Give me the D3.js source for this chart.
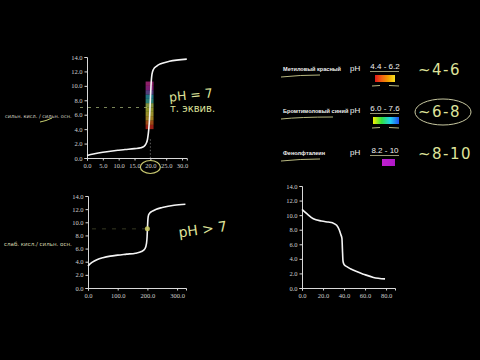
<!DOCTYPE html>
<html><head><meta charset="utf-8">
<script src="https://cdn.jsdelivr.net/npm/d3@7"></script>
<style>html,body{margin:0;padding:0;background:#000;}svg{display:block;}</style>
</head><body>
<svg id="c" width="480" height="360"></svg>
<script>
// ---- data ----
const strongX = [0, 2, 5, 8, 10, 12, 15, 17, 18, 18.6, 19.1, 19.5, 19.8, 20, 20.2, 20.5, 21, 22, 23.5, 26, 31.5];
const strongPH = [0.35, 0.55, 0.8, 0.98, 1.08, 1.17, 1.3, 1.42, 1.6, 1.95, 2.6, 4.0, 6.0, 8.0, 10.0, 11.6, 12.3, 12.75, 13.1, 13.4, 13.7];
const weakX = [0, 5, 15, 30, 50, 75, 100, 130, 160, 180, 192, 197, 199, 200, 201, 202, 204, 208, 215, 230, 250, 290, 328];
const weakPH = [3.35, 3.6, 3.95, 4.3, 4.6, 4.85, 5.0, 5.15, 5.3, 5.55, 6.0, 6.8, 7.8, 8.9, 9.9, 10.6, 11.1, 11.4, 11.65, 12.0, 12.25, 12.6, 12.75];
const baseX = [0, 4.6, 10.8, 18.5, 25, 29, 33, 35.5, 37, 38, 38.5, 38.9, 39.3, 40.2, 43, 46, 52, 58.5, 68, 79];
const basePH = [10.8, 10.2, 9.5, 9.2, 9.05, 8.95, 8.6, 7.95, 7.3, 6.8, 5.2, 3.9, 3.5, 3.2, 2.9, 2.65, 2.25, 1.9, 1.45, 1.25];
const yTicks = [0, 2, 4, 6, 8, 10, 12, 14];
const strongXTicks = [0, 5, 10, 15, 20, 25, 30];
const weakXTicks = [0, 100, 200, 300];
const baseXTicks = [0, 20, 40, 60, 80];
const indicatorNames = ["Метиловый красный", "Бромтимоловый синий", "Фенолфталеин"];
const indicatorRanges = ["4.4 - 6.2", "6.0 - 7.6", "8.2 - 10"];
const indicatorNotes = ["~4-6", "~6-8", "~8-10"];
const indicatorColors = [["#e01818", "#f06010", "#f0a000", "#f8e020"], ["#f8f000", "#30e040", "#20d0f0", "#2050f0"], ["#c020d0", "#b018c8"]];
const bandPH = [4.0, 4.6, 5.2, 5.8, 6.4, 7.0, 7.6, 8.2, 8.8, 9.4, 10.0, 10.6];
const bandColors = ["#e83020", "#f07020", "#f0c030", "#e8d840", "#d8e040", "#c8e060", "#40c0b0", "#30b0c8", "#8060c0", "#c030b0", "#d830a0", "#e8c040"];

const svg = d3.select("#c");
svg.append("rect").attr("width", 480).attr("height", 360).attr("fill", "#000");
const hand = "#dfe39a";
const fmt = d3.format(".1f");

function chart(x0, x1, y0, y1, xdom, xticks, xs, ys) {
  const x = d3.scaleLinear().domain(xdom).range([x0, x1]);
  const y = d3.scaleLinear().domain([0, 14]).range([y1, y0]);
  const g = svg.append("g");
  const ya = g.append("g").attr("transform", `translate(${x0},0)`)
    .call(d3.axisLeft(y).tickValues(yTicks).tickFormat(fmt).tickSize(2.5).tickPadding(2));
  const xa = g.append("g").attr("transform", `translate(0,${y1})`)
    .call(d3.axisBottom(x).tickValues(xticks).tickFormat(fmt).tickSize(2.5).tickPadding(3));
  [ya, xa].forEach(a => {
    a.selectAll("path,line").attr("stroke", "#d8d8d8").attr("stroke-width", 1);
    a.selectAll("text").attr("fill", "#d0d0d0").attr("font-family", "Liberation Serif, serif").attr("font-size", 6.5);
  });
  const line = d3.line().x((d, i) => x(xs[i])).y((d, i) => y(ys[i])).curve(d3.curveMonotoneX);
  return {x, y, g, line, path: () => g.append("path").datum(xs).attr("d", line).attr("fill", "none").attr("stroke", "#f4f4f4").attr("stroke-width", 1.6)};
}

// chart 1: strong acid / strong base
const c1 = chart(87, 186.8, 57, 158, [0, 31.5], strongXTicks, strongX, strongPH);
c1.g.append("line").attr("x1", 80).attr("x2", c1.x(19.8)).attr("y1", c1.y(7)).attr("y2", c1.y(7))
  .attr("stroke", "#9aa870").attr("stroke-width", 1.2).attr("stroke-dasharray", "3,5").attr("opacity", 0.8);
c1.g.append("line").attr("x1", c1.x(20)).attr("x2", c1.x(20)).attr("y1", c1.y(2.6)).attr("y2", c1.y(0))
  .attr("stroke", "#888").attr("stroke-width", 0.7).attr("stroke-dasharray", "1.5,2");
c1.g.selectAll("rect.band").data(bandPH.slice(0, -1)).enter().append("rect")
  .attr("x", c1.x(18.5)).attr("width", c1.x(21) - c1.x(18.5))
  .attr("y", (d, i) => c1.y(bandPH[i + 1])).attr("height", (d, i) => c1.y(d) - c1.y(bandPH[i + 1]))
  .attr("fill", (d, i) => bandColors[i]).attr("opacity", 0.65);
c1.path();
c1.g.append("ellipse").attr("cx", c1.x(20)).attr("cy", 167).attr("rx", 10).attr("ry", 6.5)
  .attr("fill", "none").attr("stroke", "#c8c870").attr("stroke-width", 1.2);
svg.append("text").attr("x", 5).attr("y", 118).attr("fill", "#d8d8c8").attr("font-family", "DejaVu Sans, sans-serif")
  .attr("font-size", 5).text("сильн. кисл. / сильн. осн.");
svg.append("path").attr("d", "M40,122 Q46,121 52,118").attr("stroke", "#c8d070").attr("stroke-width", 1).attr("fill", "none");
svg.append("text").attr("x", 169).attr("y", 100).attr("fill", hand).attr("font-family", "DejaVu Sans, sans-serif")
  .attr("font-size", 12.5).attr("transform", "rotate(-6,185,95)").text("pH = 7");
svg.append("text").attr("x", 170).attr("y", 112).attr("fill", hand).attr("font-family", "DejaVu Sans, sans-serif")
  .attr("font-size", 10).text("т. эквив.");

// chart 2: weak acid / strong base
const c2 = chart(88, 186, 196, 288, [0, 330], weakXTicks, weakX, weakPH);
c2.g.append("line").attr("x1", 92).attr("x2", c2.x(200)).attr("y1", c2.y(9)).attr("y2", c2.y(9))
  .attr("stroke", "#6a7040").attr("stroke-width", 1).attr("stroke-dasharray", "4,6").attr("opacity", 0.5);
c2.path();
c2.g.append("circle").attr("cx", c2.x(200)).attr("cy", c2.y(9)).attr("r", 2.5).attr("fill", "#c8c860").attr("opacity", 0.9);
svg.append("text").attr("x", 4).attr("y", 246).attr("fill", "#d8d8b0").attr("font-family", "DejaVu Sans, sans-serif")
  .attr("font-size", 5.5).text("слаб. кисл./ сильн. осн.");
svg.append("text").attr("x", 178).attr("y", 235).attr("fill", hand).attr("font-family", "DejaVu Sans, sans-serif")
  .attr("font-size", 14).attr("transform", "rotate(-8,197,228)").text("pH > 7");

// chart 3: base titrated by acid
const c3 = chart(302, 395, 186, 288, [0, 88.5], baseXTicks, baseX, basePH);
c3.path();

// indicator table
const rowsY = [69, 111, 153];
const defs = svg.append("defs");
indicatorColors.forEach((cols, i) => {
  const gr = defs.append("linearGradient").attr("id", "g" + i);
  cols.forEach((c, j) => gr.append("stop").attr("offset", j / Math.max(1, cols.length - 1)).attr("stop-color", c));
});
const barX = [[375, 395], [373, 399], [382, 395]];
const tbl = svg.append("g").selectAll("g").data(indicatorNames).enter().append("g");
tbl.append("text").attr("x", 283).attr("y", (d, i) => rowsY[i] + 2).attr("fill", "#f0f0f0")
  .attr("font-family", "Liberation Sans, Arial, sans-serif").attr("font-weight", "bold").attr("font-size", 5.6).text(d => d);
tbl.append("path").attr("d", (d, i) => `M281,${rowsY[i] + 8} Q300,${rowsY[i] + 6} ${i === 1 ? 333 : 320},${rowsY[i] + 6}`)
  .attr("stroke", "#b8b880").attr("stroke-width", 1).attr("fill", "none");
tbl.append("text").attr("x", 350).attr("y", (d, i) => rowsY[i] + 2).attr("fill", "#f0f0f0")
  .attr("font-family", "Liberation Sans, Arial, sans-serif").attr("font-size", 8).text("pH");
tbl.append("text").attr("x", 385).attr("y", (d, i) => rowsY[i]).attr("text-anchor", "middle").attr("fill", "#f0f0f0")
  .attr("font-family", "Liberation Sans, Arial, sans-serif").attr("font-size", 8).text((d, i) => indicatorRanges[i]);
tbl.append("line").attr("x1", 370).attr("x2", 399).attr("y1", (d, i) => rowsY[i] + 2.5).attr("y2", (d, i) => rowsY[i] + 2.5)
  .attr("stroke", "#c0c090").attr("stroke-width", 0.8);
tbl.append("rect").attr("x", (d, i) => barX[i][0]).attr("width", (d, i) => barX[i][1] - barX[i][0])
  .attr("y", (d, i) => rowsY[i] + 6).attr("height", 7).attr("fill", (d, i) => `url(#g${i})`);
tbl.filter((d, i) => i < 2).append("path")
  .attr("d", (d, i) => `M372,${rowsY[i] + 17} L380,${rowsY[i] + 16.5} M389,${rowsY[i] + 16.5} L399,${rowsY[i] + 17}`)
  .attr("stroke", "#b8b880").attr("stroke-width", 1);
tbl.append("text").attr("x", 418).attr("y", (d, i) => rowsY[i] + 6).attr("fill", hand)
  .attr("font-family", "DejaVu Sans, sans-serif").attr("font-size", 15).attr("letter-spacing", 1.5)
  .text((d, i) => indicatorNotes[i]);
svg.append("ellipse").attr("cx", 443).attr("cy", 112).attr("rx", 28).attr("ry", 13)
  .attr("fill", "none").attr("stroke", "#c8c8a0").attr("stroke-width", 1);
</script>
</body></html>
